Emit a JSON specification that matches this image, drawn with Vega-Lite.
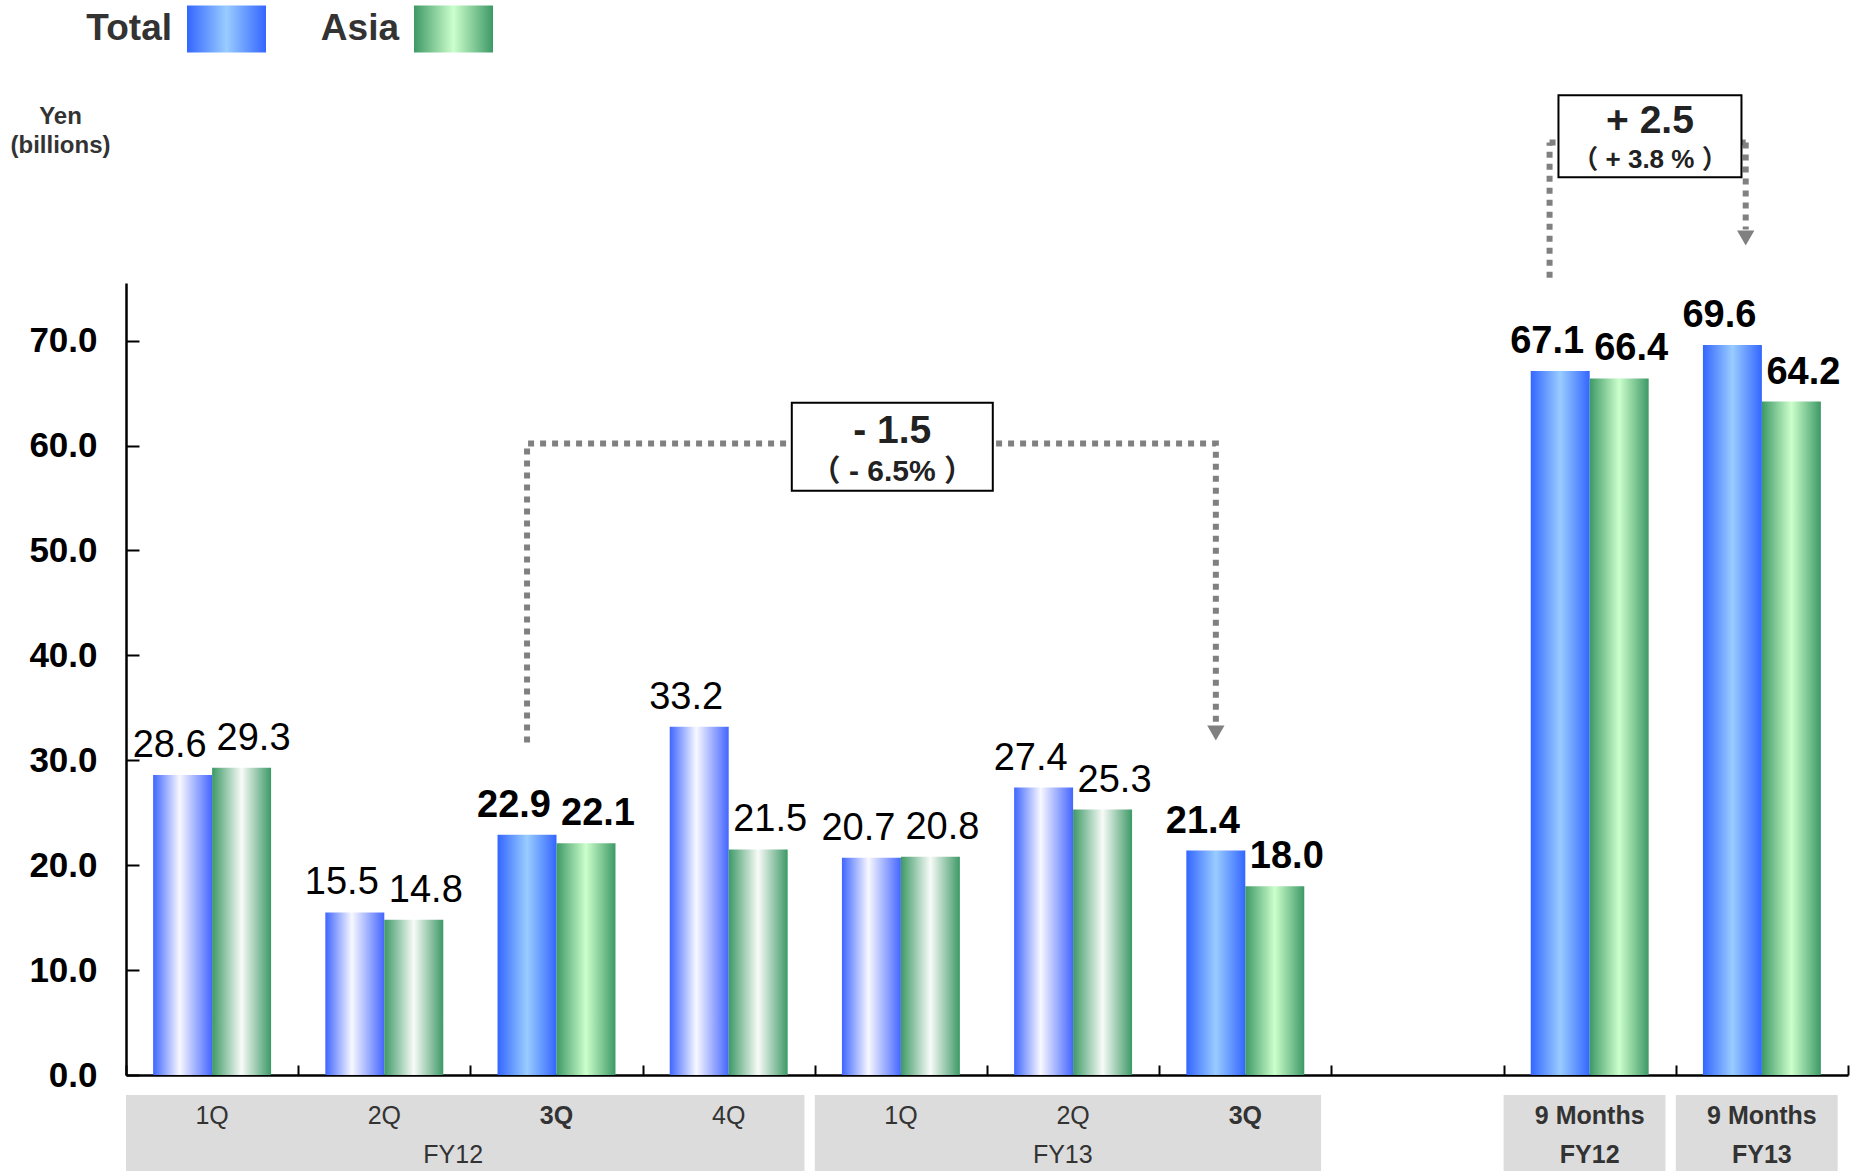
{
  "$schema": "https://vega.github.io/schema/vega-lite/v6.json",
  "width": 1722,
  "height": 792,
  "autosize": {"type": "none"},
  "padding": {"left": 126, "top": 283, "right": 4, "bottom": 96},
  "background": "white",
  "config": {"view": {"stroke": null}, "font": "Liberation Sans, 'Noto Sans CJK JP'"},
  "data": {"values": [{}]},
  "datasets": {
    "bars": [
      {"cat": "FY12 1Q", "series": "Total", "value": 28.6, "bold": false},
      {"cat": "FY12 1Q", "series": "Asia", "value": 29.3, "bold": false},
      {"cat": "FY12 2Q", "series": "Total", "value": 15.5, "bold": false},
      {"cat": "FY12 2Q", "series": "Asia", "value": 14.8, "bold": false},
      {"cat": "FY12 3Q", "series": "Total", "value": 22.9, "bold": true},
      {"cat": "FY12 3Q", "series": "Asia", "value": 22.1, "bold": true},
      {"cat": "FY12 4Q", "series": "Total", "value": 33.2, "bold": false},
      {"cat": "FY12 4Q", "series": "Asia", "value": 21.5, "bold": false},
      {"cat": "FY13 1Q", "series": "Total", "value": 20.7, "bold": false},
      {"cat": "FY13 1Q", "series": "Asia", "value": 20.8, "bold": false},
      {"cat": "FY13 2Q", "series": "Total", "value": 27.4, "bold": false},
      {"cat": "FY13 2Q", "series": "Asia", "value": 25.3, "bold": false},
      {"cat": "FY13 3Q", "series": "Total", "value": 21.4, "bold": true},
      {"cat": "FY13 3Q", "series": "Asia", "value": 18.0, "bold": true},
      {"cat": "9M FY12", "series": "Total", "value": 67.1, "bold": true},
      {"cat": "9M FY12", "series": "Asia", "value": 66.4, "bold": true},
      {"cat": "9M FY13", "series": "Total", "value": 69.6, "bold": true},
      {"cat": "9M FY13", "series": "Asia", "value": 64.2, "bold": true}
    ],
    "groups": [
      {"g": "FY12", "from": "FY12 1Q", "to": "FY12 4Q"},
      {"g": "FY13", "from": "FY13 1Q", "to": "FY13 3Q"},
      {"g": "9M FY12", "from": "9M FY12", "to": "9M FY12"},
      {"g": "9M FY13", "from": "9M FY13", "to": "9M FY13"}
    ],
    "cats": [
      {"cat": "FY12 1Q", "q": "1Q", "bold": false},
      {"cat": "FY12 2Q", "q": "2Q", "bold": false},
      {"cat": "FY12 3Q", "q": "3Q", "bold": true},
      {"cat": "FY12 4Q", "q": "4Q", "bold": false},
      {"cat": "FY13 1Q", "q": "1Q", "bold": false},
      {"cat": "FY13 2Q", "q": "2Q", "bold": false},
      {"cat": "FY13 3Q", "q": "3Q", "bold": true},
      {"cat": "9M FY12", "q": "9 Months", "fy": "FY12", "bold": true},
      {"cat": "9M FY13", "q": "9 Months", "fy": "FY13", "bold": true}
    ],
    "bracket": [
      {"cat": "FY12 3Q", "v": 31.7, "o": 1},
      {"cat": "FY12 3Q", "v": 60.2, "o": 2},
      {"cat": "FY13 3Q", "v": 60.2, "o": 3},
      {"cat": "FY13 3Q", "v": 33.6, "o": 4}
    ]
  },
  "layer": [
    {
      "data": {"name": "bars"},
      "transform": [{"calculate": "datum.bold ? datum.series : datum.series + ' q'", "as": "k"}],
      "mark": {"type": "bar"},
      "encoding": {
        "x": {
          "field": "cat", "type": "nominal", "sort": null, "title": null,
          "scale": {"domain": ["FY12 1Q", "FY12 2Q", "FY12 3Q", "FY12 4Q", "FY13 1Q", "FY13 2Q", "FY13 3Q", "blank", "9M FY12", "9M FY13"], "paddingInner": 0, "paddingOuter": 0},
          "axis": {"labels": false, "title": null, "domainColor": "#000", "domainWidth": 2.5, "tickColor": "#000", "tickWidth": 2, "tickSize": -10, "tickBand": "extent"}
        },
        "xOffset": {"field": "series", "type": "nominal", "scale": {"domain": ["Total", "Asia"], "paddingInner": 0, "paddingOuter": 0.46}},
        "y": {
          "field": "value", "type": "quantitative", "title": ["Yen", "(billions)"],
          "scale": {"domain": [0, 75.5], "nice": false, "zero": true},
          "axis": {
            "title": ["Yen", "(billions)"], "values": [0, 10, 20, 30, 40, 50, 60, 70], "format": ".1f", "grid": false,
            "domainColor": "#000", "domainWidth": 2.5, "tickColor": "#000", "tickWidth": 2, "tickSize": -13,
            "labelFontSize": 35, "labelFontWeight": "bold", "labelColor": "#000", "labelPadding": 42,
            "titleAngle": 0, "titleFontSize": 24, "titleFontWeight": "bold", "titleColor": "#333",
            "titleAlign": "center", "titleBaseline": "top", "titleX": -66, "titleY": -179, "titleLineHeight": 29
          }
        },
        "color": {
          "field": "k", "type": "nominal",
          "scale": {
            "domain": ["Total", "Asia", "Total q", "Asia q"],
            "range": [
              {"expr": "{gradient: 'linear', x1: 0, y1: 0, x2: 1, y2: 0, stops: [{offset: 0, color: '#3366ff'}, {offset: 0.5, color: '#99ccff'}, {offset: 1, color: '#3366ff'}]}"},
              {"expr": "{gradient: 'linear', x1: 0, y1: 0, x2: 1, y2: 0, stops: [{offset: 0, color: '#3d9966'}, {offset: 0.5, color: '#ccffcc'}, {offset: 1, color: '#3d9966'}]}"},
              {"expr": "{gradient: 'linear', x1: 0, y1: 0, x2: 1, y2: 0, stops: [{offset: 0, color: '#3f66ff'}, {offset: 0.45, color: '#f8f8ff'}, {offset: 1, color: '#4466ff'}]}"},
              {"expr": "{gradient: 'linear', x1: 0, y1: 0, x2: 1, y2: 0, stops: [{offset: 0, color: '#3d9966'}, {offset: 0.5, color: '#f8fbf8'}, {offset: 1, color: '#3d9966'}]}"}
            ]
          },
          "legend": {
            "orient": "none", "legendX": 61, "legendY": -294, "direction": "horizontal",
            "values": ["Total", "Asia"], "title": null,
            "symbolType": "M-1,-0.595H1V0.595H-1Z", "symbolSize": 6241, "symbolStrokeWidth": 0,
            "labelFontSize": 37, "labelFontWeight": "bold", "labelColor": "#333",
            "labelAlign": "right", "labelOffset": -94, "columnPadding": 54, "labelLimit": 0
          }
        }
      }
    },
    {
      "data": {"name": "groups"},
      "mark": {"type": "rect", "fill": "#dcdcdc"},
      "encoding": {
        "x": {"field": "from", "type": "nominal", "bandPosition": 0},
        "x2": {"field": "to", "bandPosition": 0.94},
        "y": {"datum": -1.9, "type": "quantitative"},
        "y2": {"datum": -9.6}
      }
    },
    {
      "data": {"name": "bars"},
      "mark": {
        "type": "text", "baseline": "alphabetic", "dy": -18, "fontSize": 38, "color": "#000",
        "dx": {"expr": "datum.series == 'Total' ? -13 : 12"},
        "fontWeight": {"expr": "datum.bold ? 'bold' : 'normal'"}
      },
      "encoding": {
        "x": {"field": "cat", "type": "nominal"},
        "xOffset": {"field": "series", "type": "nominal"},
        "y": {"field": "value", "type": "quantitative"},
        "text": {"field": "value", "type": "quantitative", "format": ".1f"}
      }
    },
    {
      "data": {"name": "cats"},
      "mark": {"type": "text", "baseline": "middle", "fontSize": 25, "color": "#333", "fontWeight": {"expr": "datum.bold ? 'bold' : 'normal'"}},
      "encoding": {
        "x": {"field": "cat", "type": "nominal"},
        "y": {"datum": -3.9, "type": "quantitative"},
        "text": {"field": "q"}
      }
    },
    {
      "data": {"name": "cats"},
      "transform": [{"filter": "datum.fy"}],
      "mark": {"type": "text", "baseline": "middle", "fontSize": 25, "color": "#333", "fontWeight": "bold"},
      "encoding": {
        "x": {"field": "cat", "type": "nominal"},
        "y": {"datum": -7.6, "type": "quantitative"},
        "text": {"field": "fy"}
      }
    },
    {
      "mark": {"type": "text", "baseline": "middle", "fontSize": 25, "color": "#333"},
      "encoding": {
        "x": {"datum": "FY12 2Q", "type": "nominal", "bandPosition": 0.9},
        "y": {"datum": -7.6, "type": "quantitative"},
        "text": {"value": "FY12"}
      }
    },
    {
      "mark": {"type": "text", "baseline": "middle", "fontSize": 25, "color": "#333"},
      "encoding": {
        "x": {"datum": "FY13 2Q", "type": "nominal", "bandPosition": 0.44},
        "y": {"datum": -7.6, "type": "quantitative"},
        "text": {"value": "FY13"}
      }
    },
    {
      "data": {"name": "bracket"},
      "mark": {"type": "line", "color": "#808080", "strokeWidth": 6, "strokeDash": [6, 6], "strokeCap": "butt"},
      "encoding": {
        "x": {"field": "cat", "type": "nominal", "bandPosition": 0.329},
        "y": {"field": "v", "type": "quantitative"},
        "order": {"field": "o"}
      }
    },
    {
      "mark": {"type": "point", "shape": "triangle-down", "size": 300, "filled": true, "color": "#808080", "opacity": 1},
      "encoding": {
        "x": {"datum": "FY13 3Q", "type": "nominal", "bandPosition": 0.329},
        "y": {"datum": 32.6, "type": "quantitative"}
      }
    },
    {
      "mark": {"type": "rule", "color": "#808080", "strokeWidth": 6, "strokeDash": [6, 6], "strokeCap": "butt"},
      "encoding": {
        "x": {"datum": "9M FY12", "type": "nominal", "bandPosition": 0.267},
        "y": {"datum": 76.0, "type": "quantitative"},
        "y2": {"datum": 88.9}
      }
    },
    {
      "mark": {"type": "rule", "color": "#808080", "strokeWidth": 6, "strokeDash": [6, 6], "strokeCap": "butt"},
      "encoding": {
        "x": {"datum": "9M FY12", "type": "nominal", "bandPosition": 0.267},
        "x2": {"datum": "9M FY13", "bandPosition": 0.406},
        "y": {"datum": 88.9, "type": "quantitative"}
      }
    },
    {
      "mark": {"type": "rule", "color": "#808080", "strokeWidth": 6, "strokeDash": [6, 6], "strokeCap": "butt"},
      "encoding": {
        "x": {"datum": "9M FY13", "type": "nominal", "bandPosition": 0.406},
        "y": {"datum": 88.9, "type": "quantitative"},
        "y2": {"datum": 80.6}
      }
    },
    {
      "mark": {"type": "point", "shape": "triangle-down", "size": 300, "filled": true, "color": "#808080", "opacity": 1},
      "encoding": {
        "x": {"datum": "9M FY13", "type": "nominal", "bandPosition": 0.406},
        "y": {"datum": 79.8, "type": "quantitative"}
      }
    },
    {
      "mark": {"type": "point", "shape": "M-1,-0.4378H1V0.4378H-1Z", "size": 40401, "filled": true, "fill": "white", "stroke": "#000", "strokeWidth": 2, "opacity": 1},
      "encoding": {
        "x": {"datum": "FY13 1Q", "type": "nominal", "bandPosition": 0.45},
        "y": {"datum": 59.9, "type": "quantitative"}
      }
    },
    {
      "mark": {"type": "point", "shape": "M-1,-0.448H1V0.448H-1Z", "size": 33489, "filled": true, "fill": "white", "stroke": "#000", "strokeWidth": 2, "opacity": 1},
      "encoding": {
        "x": {"datum": "9M FY12", "type": "nominal", "bandPosition": 0.85},
        "y": {"datum": 89.5, "type": "quantitative"}
      }
    },
    {
      "mark": {"type": "text", "baseline": "middle", "fontSize": 39, "fontWeight": "bold", "color": "#222"},
      "encoding": {
        "x": {"datum": "FY13 1Q", "type": "nominal", "bandPosition": 0.45},
        "y": {"datum": 61.4, "type": "quantitative"},
        "text": {"value": "- 1.5"}
      }
    },
    {
      "mark": {"type": "text", "baseline": "middle", "fontSize": 30, "fontWeight": "bold", "color": "#222"},
      "encoding": {
        "x": {"datum": "FY13 1Q", "type": "nominal", "bandPosition": 0.45},
        "y": {"datum": 57.5, "type": "quantitative"},
        "text": {"value": "（ - 6.5% ）"}
      }
    },
    {
      "mark": {"type": "text", "baseline": "middle", "fontSize": 39, "fontWeight": "bold", "color": "#222"},
      "encoding": {
        "x": {"datum": "9M FY12", "type": "nominal", "bandPosition": 0.85},
        "y": {"datum": 90.9, "type": "quantitative"},
        "text": {"value": "+ 2.5"}
      }
    },
    {
      "mark": {"type": "text", "baseline": "middle", "fontSize": 26, "fontWeight": "bold", "color": "#222"},
      "encoding": {
        "x": {"datum": "9M FY12", "type": "nominal", "bandPosition": 0.85},
        "y": {"datum": 87.2, "type": "quantitative"},
        "text": {"value": "（ + 3.8 % ）"}
      }
    }
  ]
}
